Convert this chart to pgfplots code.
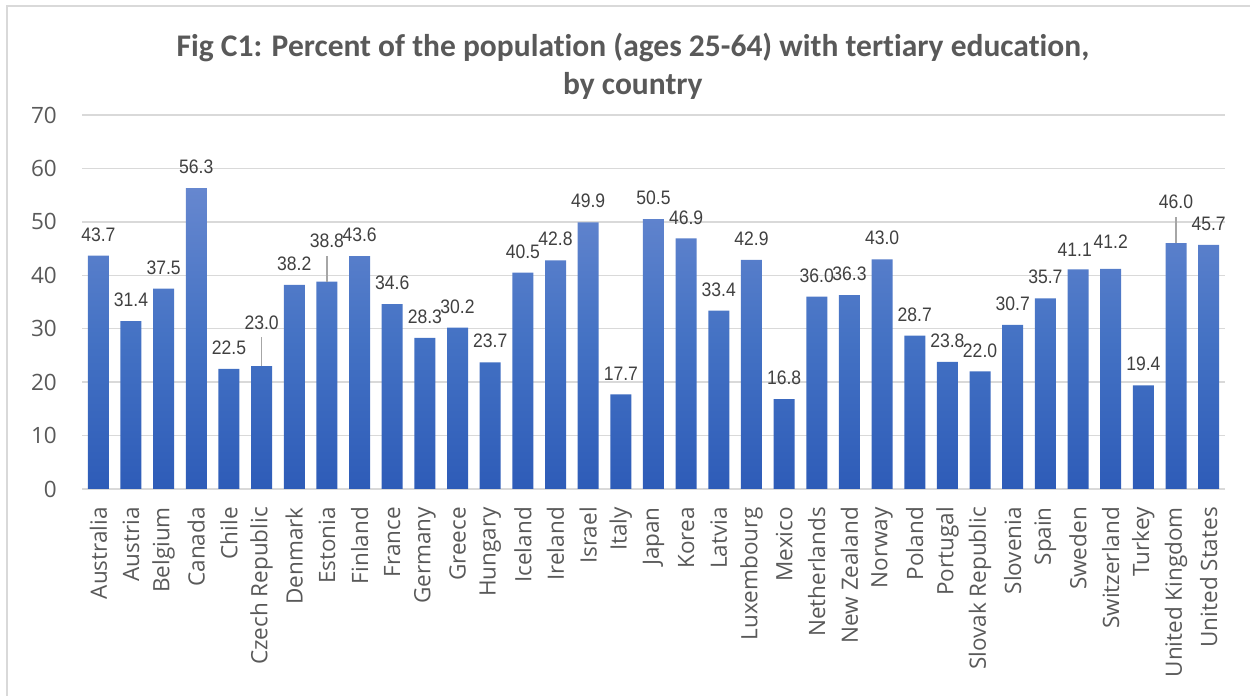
\documentclass[border=0pt]{standalone}
\usepackage{pgfplots}
\pgfplotsset{compat=1.18}
\usepackage{pgfplotstable}
\usepackage{fontspec}
\setmainfont{Open Sans}
\newfontfamily\titlefont[Ligatures=NoCommon]{Carlito}
\newfontfamily\labelfont[FakeStretch=0.9]{Liberation Sans}

\definecolor{gridgray}{HTML}{D9D9D9}
\definecolor{ticktext}{HTML}{595959}
\definecolor{labeltext}{HTML}{404040}
\definecolor{leader}{HTML}{A6A6A6}
\definecolor{bartop}{HTML}{6687CF}
\definecolor{barmid}{HTML}{4472C4}
\definecolor{barbot}{HTML}{2E5CB8}

% share of 25-64 year olds with tertiary education, one row per country
\pgfplotstableread{
x y lab
0 43.7 43.7
1 31.4 31.4
2 37.5 37.5
3 56.3 56.3
4 22.5 22.5
5 23.0 {}
6 38.2 38.2
7 38.8 {}
8 43.6 43.6
9 34.6 34.6
10 28.3 28.3
11 30.2 30.2
12 23.7 23.7
13 40.5 40.5
14 42.8 42.8
15 49.9 49.9
16 17.7 17.7
17 50.5 50.5
18 46.9 46.9
19 33.4 33.4
20 42.9 42.9
21 16.8 16.8
22 36.0 36.0
23 36.3 36.3
24 43.0 43.0
25 28.7 28.7
26 23.8 23.8
27 22.0 22.0
28 30.7 30.7
29 35.7 35.7
30 41.1 {}
31 41.2 {}
32 19.4 19.4
33 46.0 {}
34 45.7 45.7
}\tertiary

% labels that Excel moved: three with a leader line, Sweden/Switzerland nudged apart
\pgfplotstableread{
x y lab
5 29.76 23.0
7 45.1 38.8
29.9 43.4 41.1
31 44.9 41.2
33 52.5 46.0
}\moved

\begin{document}
\begin{tikzpicture}
\path[use as bounding box] (0,0) rectangle (1250bp,696bp);
\draw[gridgray, line width=2bp] (7bp,0) -- (7bp,690bp) -- (1250bp,690bp);
\begin{axis}[
    at={(82bp,207bp)}, anchor=south west,
    scale only axis, width=1143bp, height=374bp,
    xmin=-0.5, xmax=34.5, ymin=0, ymax=70,
    ytick distance=10,
    xtick={0,...,34},
    xticklabels={Australia,Austria,Belgium,Canada,Chile,Czech Republic,Denmark,Estonia,Finland,France,Germany,Greece,Hungary,Iceland,Ireland,Israel,Italy,Japan,Korea,Latvia,Luxembourg,Mexico,Netherlands,New Zealand,Norway,Poland,Portugal,Slovak Republic,Slovenia,Spain,Sweden,Switzerland,Turkey,United Kingdom,United States},
    axis line style={draw=none},
    major tick length=0pt,
    ymajorgrids, grid style={gridgray, line width=1.3bp},
    ticklabel style={font=\fontsize{22.5bp}{27bp}\selectfont, text=ticktext, inner sep=0pt},
    xticklabel style={rotate=90, anchor=east},
    xticklabel shift=18bp,
    yticklabel shift=25bp,
    /pgf/number format/assume math mode=true,
    title={Fig C1: Percent of the population (ages 25-64) with tertiary education,\\by country},
    title style={align=center, font=\titlefont\bfseries\fontsize{31.5bp}{38bp}\selectfont,
        text=ticktext, at={(0.482,1)}, anchor=south, inner sep=0pt, yshift=9bp},
    clip=false,
]
\addplot[ybar, bar width=21bp, draw=none,
    top color=bartop, bottom color=barbot, middle color=barmid,
    nodes near coords, point meta=explicit symbolic,
    every node near coord/.append style={font=\labelfont\fontsize{19.5bp}{22bp}\selectfont,
        text=labeltext, anchor=south, inner sep=0pt, yshift=14bp}]
    table[x=x, y=y, meta=lab] {\tertiary};

\addplot[leader, line width=1.2bp] coordinates {(5,23.0) (5,28.45)};
\addplot[leader, line width=1.2bp] coordinates {(7,38.8) (7,43.6)};
\addplot[leader, line width=1.2bp] coordinates {(33,46.0) (33,50.9)};

\addplot[draw=none, mark=none,
    nodes near coords, point meta=explicit symbolic,
    every node near coord/.append style={font=\labelfont\fontsize{19.5bp}{22bp}\selectfont,
        text=labeltext, anchor=south, inner sep=0pt}]
    table[x=x, y=y, meta=lab] {\moved};
\end{axis}
\end{tikzpicture}
\end{document}
